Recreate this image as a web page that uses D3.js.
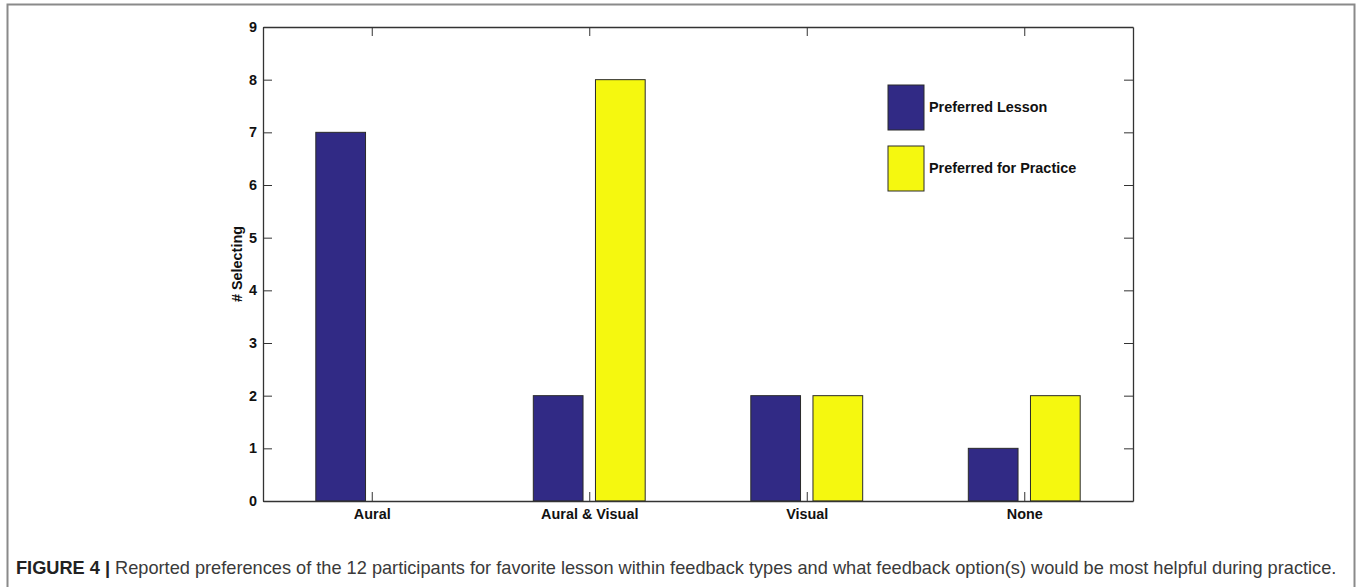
<!DOCTYPE html>
<html>
<head>
<meta charset="utf-8">
<script src="https://cdn.jsdelivr.net/npm/d3@7"></script>
<style>
  html, body { margin: 0; padding: 0; background: #fff; }
  svg { display: block; }
</style>
</head>
<body>
<svg id="chart" width="1360" height="587"></svg>
<script>
// Feedback-type categories and the two count series
const categories = ["Aural", "Aural & Visual", "Visual", "None"];
const preferredLesson = [7, 2, 2, 1];
const preferredPractice = [0, 8, 2, 2];
const seriesNames = ["Preferred Lesson", "Preferred for Practice"];
const seriesColors = ["#312a85", "#f5f80f"];
const yTicks = [0, 1, 2, 3, 4, 5, 6, 7, 8, 9];

const svg = d3.select("#chart");

// Outer figure frame
svg.append("rect")
  .attr("x", 7.5).attr("y", 4.5)
  .attr("width", 1347).attr("height", 600)
  .attr("fill", "none").attr("stroke", "#8a8a8a").attr("stroke-width", 2);

const plot = { left: 263, top: 27, right: 1133, bottom: 501 };

// Category positions 1..4 on a continuous axis spanning 0.5..4.5
const x = d3.scaleLinear().domain([0.5, 4.5]).range([plot.left, plot.right]);
const y = d3.scaleLinear().domain([0, 9]).range([plot.bottom, plot.top]);

const barW = 0.2286;
const offset = 0.1429;
const series = [preferredLesson, preferredPractice];

const g = svg.append("g");

series.forEach((vals, si) => {
  const off = si === 0 ? -offset : offset;
  g.selectAll(null)
    .data(vals.map((v, i) => ({ v, i })).filter(d => d.v > 0))
    .enter().append("rect")
    .attr("x", d => x(d.i + 1 + off - barW / 2))
    .attr("width", d => x(d.i + 1 + off + barW / 2) - x(d.i + 1 + off - barW / 2))
    .attr("y", d => y(d.v))
    .attr("height", d => y(0) - y(d.v))
    .attr("fill", seriesColors[si])
    .attr("stroke", "#2a2a2a")
    .attr("stroke-width", 1);
});

// Axes box with inward ticks on all four sides
const tickLen = 9;
const axisColor = "#333";
const font = "'Liberation Sans', Arial, Helvetica, sans-serif";
const labelSize = "14.4px";

// d3 adds max(inner tick size, 0) to the padding; inward ticks contribute nothing
const yLeft = d3.axisLeft(y).tickValues(yTicks).tickSizeInner(-tickLen).tickSizeOuter(0).tickPadding(6);
const yRight = d3.axisRight(y).tickValues(yTicks).tickSizeInner(-tickLen).tickSizeOuter(0).tickFormat("");
const xBottom = d3.axisBottom(x).tickValues([1, 2, 3, 4]).tickSizeInner(-tickLen).tickSizeOuter(0)
  .tickPadding(8).tickFormat(d => categories[d - 1]);
const xTop = d3.axisTop(x).tickValues([1, 2, 3, 4]).tickSizeInner(-tickLen).tickSizeOuter(0).tickFormat("");

function styleAxis(sel) {
  sel.select(".domain").attr("stroke", axisColor).attr("stroke-width", 1.3);
  sel.selectAll(".tick line").attr("stroke", axisColor).attr("stroke-width", 1);
  sel.selectAll(".tick text")
    .attr("fill", "#111")
    .style("font-family", font)
    .style("font-weight", "bold")
    .style("font-size", labelSize);
}

svg.append("g").attr("transform", `translate(${plot.left},0)`).call(yLeft).call(styleAxis);
svg.append("g").attr("transform", `translate(${plot.right},0)`).call(yRight).call(styleAxis);
svg.append("g").attr("transform", `translate(0,${plot.bottom})`).call(xBottom).call(styleAxis);
svg.append("g").attr("transform", `translate(0,${plot.top})`).call(xTop).call(styleAxis);

// Y axis title
svg.append("text")
  .attr("transform", `translate(242,${(plot.top + plot.bottom) / 2}) rotate(-90)`)
  .attr("text-anchor", "middle")
  .style("font-family", font)
  .style("font-weight", "bold")
  .style("font-size", labelSize)
  .attr("fill", "#111")
  .text("# Selecting");

// Legend
const legend = svg.append("g");
const legendRows = [{ y0: 85, y1: 130 }, { y0: 146, y1: 191 }];
seriesNames.forEach((name, i) => {
  const r = legendRows[i];
  legend.append("rect")
    .attr("x", 888).attr("y", r.y0)
    .attr("width", 36).attr("height", r.y1 - r.y0)
    .attr("fill", seriesColors[i])
    .attr("stroke", "#2a2a2a").attr("stroke-width", 1);
  legend.append("text")
    .attr("x", 929).attr("y", (r.y0 + r.y1) / 2 - 1)
    .attr("dy", "0.35em")
    .style("font-family", font)
    .style("font-weight", "bold")
    .style("font-size", labelSize)
    .attr("fill", "#111")
    .text(name);
});

// Caption, sized to span the frame width
const cap = svg.append("text")
  .attr("x", 16).attr("y", 574)
  .style("font-family", font)
  .style("font-size", "18px")
  .attr("fill", "#3a3a3a");
cap.append("tspan").style("font-weight", "bold").attr("fill", "#222").text("FIGURE 4 | ");
cap.append("tspan").text("Reported preferences of the 12 participants for favorite lesson within feedback types and what feedback option(s) would be most helpful during practice.");
const capW = cap.node().getComputedTextLength();
cap.style("font-size", (18 * 1322 / capW).toFixed(2) + "px");
</script>
</body>
</html>
